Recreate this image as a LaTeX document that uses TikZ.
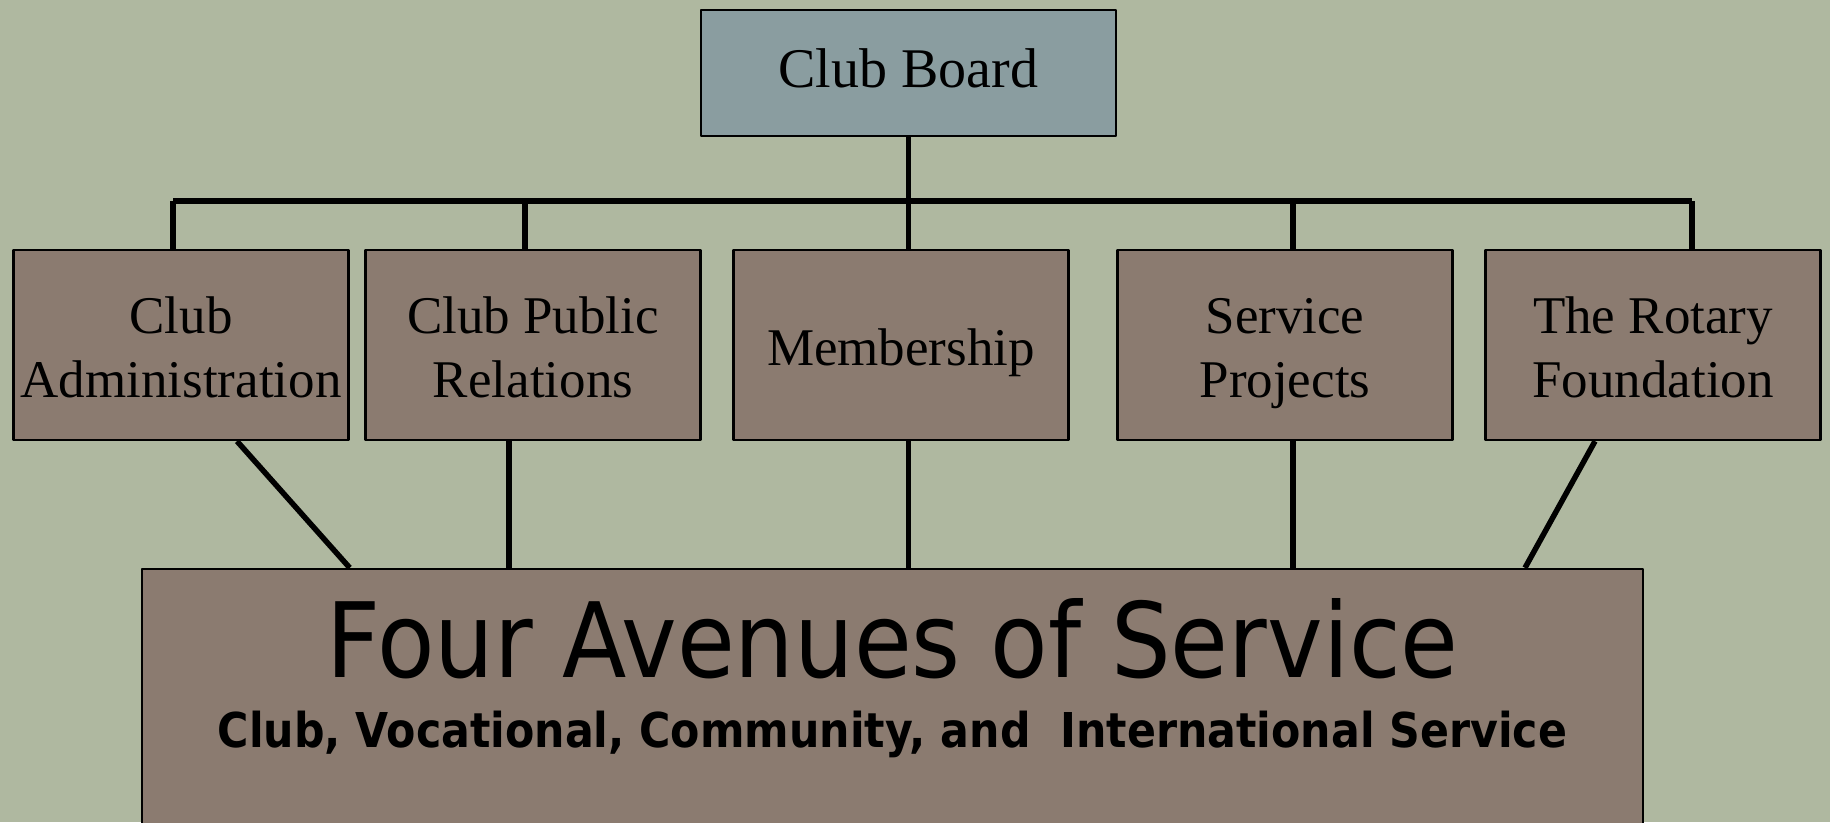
\documentclass[tikz,border=0pt]{standalone}
\usepackage{fontspec}
\setmainfont{Liberation Serif}
\newfontfamily\titlefont[FakeStretch=0.904]{DejaVu Sans}
\newfontfamily\subtitlefont[FakeStretch=0.89]{DejaVu Sans}
\definecolor{sage}{RGB}{175,184,160}
\definecolor{boardblue}{RGB}{138,157,160}
\definecolor{taupe}{RGB}{139,123,112}
\newcommand\unitstrut{\rule[-12pt]{0pt}{64pt}}
\newcommand\boardstrut{\rule[-18pt]{0pt}{64pt}}
\tikzset{
  unit/.style={draw=black, line width=2.4pt, fill=taupe, minimum width=335pt, minimum height=190pt,
    inner sep=0pt, align=center, font=\fontsize{53}{64}\selectfont},
  link/.style={line width=5.5pt},
  bar/.style={line width=6.7pt, line cap=square},
}
\begin{document}
\begin{tikzpicture}[x=1pt, y=-1pt, line join=round]
  \clip (0,0) rectangle (1830,822);
  \fill[sage] (0,0) rectangle (1830,822);
  % top
  \node[unit, fill=boardblue, minimum width=415pt, minimum height=126pt, font=\fontsize{56}{64}\selectfont] (board) at (908.5,73) {\boardstrut Club Board};
  % the five units
  \node[unit] (admin) at (181,345) {\unitstrut Club\\Administration\unitstrut};
  \node[unit] (relations) at (533,345) {\unitstrut Club Public\\Relations\unitstrut};
  \node[unit] (member) at (901,345) {\unitstrut Membership};
  \node[unit] (projects) at (1285,345) {\unitstrut Service\\Projects\unitstrut};
  \node[unit] (foundation) at (1653,345) {\unitstrut The Rotary\\Foundation\unitstrut};
  % bottom
  \node[unit, minimum width=1501pt, minimum height=300pt] (avenues) at (892.5,719) {};
  \node[anchor=base, font=\titlefont\fontsize{104}{110}\selectfont] (title) at (892.5,677) {Four Avenues of Service};
  \node[anchor=base, font=\subtitlefont\bfseries\fontsize{48}{56}\selectfont] (subtitle) at (892.5,747) {Club, Vocational, Community, and\ \ International Service};
  % tree lines
  \coordinate (bar) at (0,201);
  \draw[bar] (173,201) -- (1692,201);
  \draw[link] (board.south) -- (board.south |- member.north);
  \foreach \n/\x in {admin/173, relations/525, projects/1293, foundation/1692}{
    \path (\x,0) coordinate (c);
    \draw[link] (bar -| c) -- (\n.north -| c);
  }
  \foreach \n/\x in {relations/509, member/908.5, projects/1293}{
    \path (\x,0) coordinate (c);
    \draw[link] (\n.south -| c) -- (avenues.north -| c);
  }
  \draw[link] ([xshift=56pt]admin.south) -- (avenues.north -| admin.east);
  \draw[link] ([xshift=-58pt]foundation.south) -- ([xshift=632.5pt]avenues.north);
\end{tikzpicture}
\end{document}
